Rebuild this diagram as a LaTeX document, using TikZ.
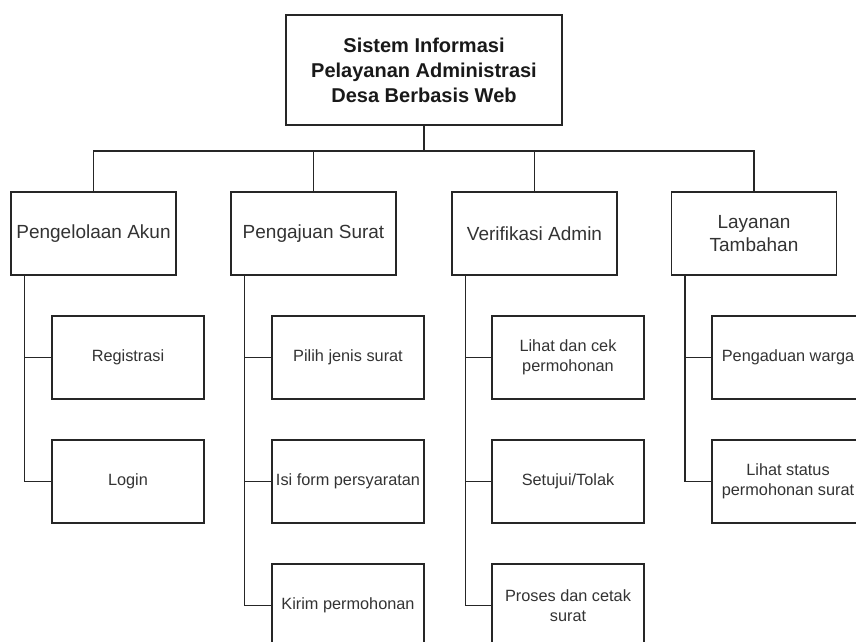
\documentclass[tikz,border=0pt]{standalone}
\usepackage{fontspec}
\setmainfont{Liberation Sans}
\begin{document}
\begin{tikzpicture}[x=1pt,y=-1pt,
  line/.style={draw=black!85,line width=1.5pt},
  topbox/.style={line,rectangle,minimum width=276pt,minimum height=110pt,inner sep=2pt,align=center,text=black!90,font=\fontsize{20}{25}\selectfont\bfseries},
  midbox/.style={line,rectangle,minimum width=165pt,minimum height=83pt,inner sep=2pt,align=center,text=black!80,font=\fontsize{19}{23}\selectfont},
  leafbox/.style={line,rectangle,minimum width=152pt,minimum height=83pt,inner sep=1pt,align=center,text=black!80,font=\fontsize{16.3}{20}\selectfont}]
\useasboundingbox (0,0) rectangle (856,642);
\clip (0,0) rectangle (856,642);
\fill[white] (0,0) rectangle (856,642);

\node[topbox] (top) at (424,70) {Sistem Informasi\\Pelayanan Administrasi\\Desa Berbasis Web};

\node[midbox] (m1) at (93.5,233.5) {Pengelolaan Akun};
\node[midbox] (m2) at (313.5,233.5) {Pengajuan Surat};
\node[midbox] (m3) at (534.5,233.5) {Verifikasi Admin};
\node[midbox] (m4) at (754,233.5) {Layanan\\Tambahan};

\node[leafbox] (a1) at (128,357.5) {Registrasi};
\node[leafbox] (a2) at (128,481.5) {Login};
\node[leafbox] (b1) at (348,357.5) {Pilih jenis surat};
\node[leafbox] (b2) at (348,481.5) {Isi form persyaratan};
\node[leafbox] (b3) at (348,605.5) {Kirim permohonan};
\node[leafbox] (c1) at (568,357.5) {Lihat dan cek\\permohonan};
\node[leafbox] (c2) at (568,481.5) {Setujui/Tolak};
\node[leafbox] (c3) at (568,605.5) {Proses dan cetak\\surat};
\node[leafbox] (d1) at (788,357.5) {Pengaduan warga};
\node[leafbox] (d2) at (788,481.5) {Lihat status\\permohonan surat};

% top-level tree
\coordinate (bus) at (424,151);
\draw[line] (top.south) -- (bus);
\draw[line] (m1.north) |- (bus);
\draw[line] (m2.north) |- (bus);
\draw[line] (m3.north) |- (bus);
\draw[line] (m4.north) |- (bus);

% child spines
\draw[line] ([xshift=14pt]m1.south west) |- (a1.west);
\draw[line] ([xshift=14pt]m1.south west) |- (a2.west);
\draw[line] ([xshift=14pt]m2.south west) |- (b1.west);
\draw[line] ([xshift=14pt]m2.south west) |- (b2.west);
\draw[line] ([xshift=14pt]m2.south west) |- (b3.west);
\draw[line] ([xshift=14pt]m3.south west) |- (c1.west);
\draw[line] ([xshift=14pt]m3.south west) |- (c2.west);
\draw[line] ([xshift=14pt]m3.south west) |- (c3.west);
\draw[line] ([xshift=14pt]m4.south west) |- (d1.west);
\draw[line] ([xshift=14pt]m4.south west) |- (d2.west);
\end{tikzpicture}
\end{document}
